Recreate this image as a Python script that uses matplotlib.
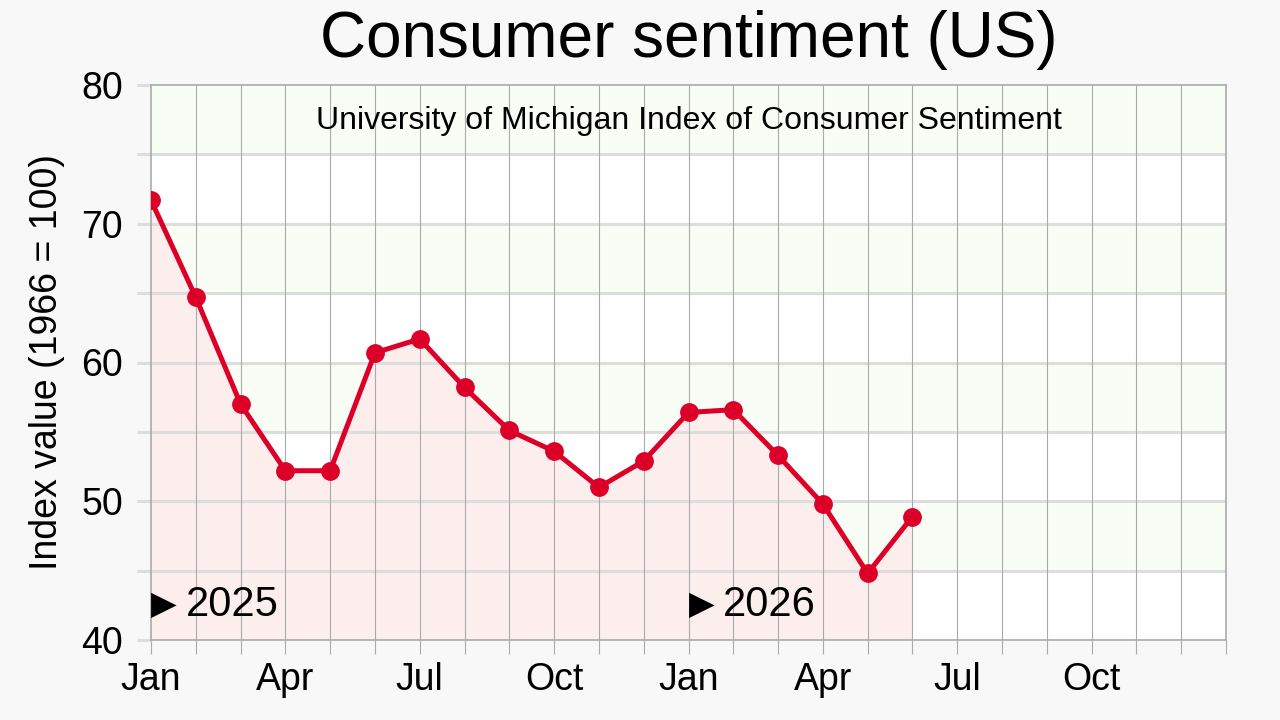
import numpy as np
import matplotlib.pyplot as plt

# Monthly index values, Jan 2025 .. Jun 2026
sentiment = [71.7, 64.7, 57.0, 52.2, 52.2, 60.7, 61.7, 58.2, 55.1, 53.6, 51.0, 52.9,
             56.4, 56.6, 53.3, 49.8, 44.8, 48.9]
month_names = ['Jan', 'Feb', 'Mar', 'Apr', 'May', 'Jun',
               'Jul', 'Aug', 'Sep', 'Oct', 'Nov', 'Dec']
years = [2025, 2026]
n_months = 24  # axis spans Jan 2025 .. Jan 2027

plt.rcParams['font.family'] = ['Liberation Sans', 'DejaVu Sans']

line_color = '#dc0028'
fill_color = '#fdeeee'
band_color = '#f8fdf6'
grid_color = '#dddddd'

fig = plt.figure(figsize=(12.8, 7.2), dpi=100, facecolor='#f8f8f8')
ax = fig.add_axes([151 / 1280, 80 / 720, 1075 / 1280, 555 / 720])
ax.set_facecolor('white')

# alternating green bands
for lo in range(45, 80, 10):
    ax.axhspan(lo, lo + 5, color=band_color, zorder=0)

x = np.arange(len(sentiment))
ax.fill_between(x, sentiment, 40, color=fill_color, zorder=1, linewidth=0)
ax.plot(x, sentiment, color=line_color, lw=3.6, marker='o', ms=12.5, zorder=4,
        solid_joinstyle='round')

ax.set_xlim(0, n_months)
ax.set_ylim(40, 80)

# grid lines
for v in range(45, 80, 5):
    ax.axhline(v, color=grid_color, lw=2.2, zorder=2)
for m in range(1, n_months):
    ax.axvline(m, color='#aaaaaa', lw=0.8, zorder=2)

ax.set_xticks(np.arange(0, n_months + 1))
ax.set_xticklabels([month_names[m % 12] if m % 3 == 0 and m < n_months else ''
                    for m in range(n_months + 1)])
ax.set_yticks(np.arange(40, 81, 5))
ax.set_yticklabels([str(v) if v % 10 == 0 else '' for v in range(40, 81, 5)])
ax.tick_params(axis='x', length=10, color='#aaaaaa', labelsize=27, pad=6)
ax.tick_params(axis='y', length=10, width=2.2, color=grid_color, labelsize=27, pad=10)

for s in ax.spines.values():
    s.set_color('#aaaaaa')
    s.set_linewidth(1.2)

for i, yr in enumerate(years):
    ax.annotate('\u25b6', (12 * i, 42.5), xytext=(0, 0), textcoords='offset points',
                fontsize=24, va='center', ha='left', zorder=5)
    ax.annotate(str(yr), (12 * i, 42.5), xytext=(25, 0), textcoords='offset points',
                fontsize=30, va='center', ha='left', zorder=5)

ax.text(12, 77.4, 'University of Michigan Index of Consumer Sentiment',
        fontsize=23, ha='center', va='center', zorder=5)
ax.set_ylabel('Index value (1966 = 100)', fontsize=27, labelpad=12)

fig.text(689 / 1280, 1 - 40 / 720, 'Consumer sentiment (US)', fontsize=46,
         ha='center', va='center')

fig.savefig('out.png', dpi=100, facecolor=fig.get_facecolor())
